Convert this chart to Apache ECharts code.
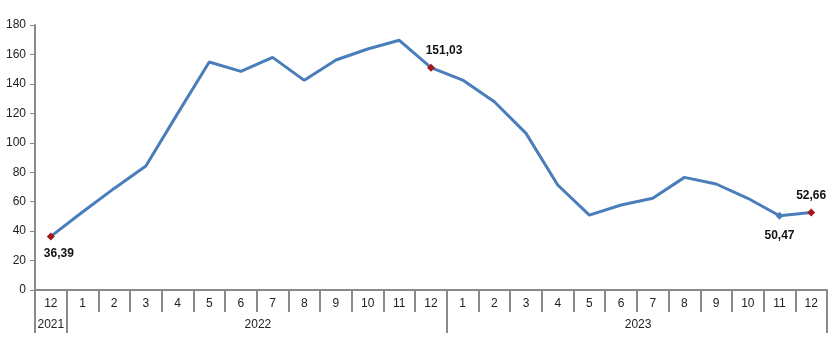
<!DOCTYPE html>
<html><head><meta charset="utf-8">
<script src="https://cdn.jsdelivr.net/npm/echarts@6/dist/echarts.min.js"></script>
<style>html,body{margin:0;padding:0;background:#fff}#c{width:835px;height:338px}</style>
</head><body><div id="c"></div>
<script>
const months = ['12','1','2','3','4','5','6','7','8','9','10','11','12','1','2','3','4','5','6','7','8','9','10','11','12'];
const years = ['2021','2022','2023'];
const yearStartIdx = [0, 1, 13];
const values = [36.39, 53, 69, 84.2, 119.8, 154.9, 148.5, 158, 142.4, 156.2, 163.7, 169.6, 151.03,
  142.6, 127.9, 106.4, 71.3, 50.9, 57.7, 62.3, 76.5, 72, 62.3, 50.47, 52.66];
const yTicks = [0, 20, 40, 60, 80, 100, 120, 140, 160, 180];

const red = '#a3161c', blue = '#4a7ebb';
const labelled = {
  0: {color: red, pos: 'bottom', off: [8, 2]},
  12: {color: red, pos: 'top', off: [13, -2]},
  23: {color: blue, pos: 'bottom', off: [0, 5]},
  24: {color: red, pos: 'top', off: [0, -2]}
};
const fmt = v => v.toFixed(2).replace('.', ',');
const seriesData = values.map((v, i) => {
  const l = labelled[i];
  if (!l) return {value: v, symbol: 'none'};
  return {
    value: v, symbol: 'diamond', symbolSize: 8,
    itemStyle: {color: l.color},
    label: {show: true, position: l.pos, offset: l.off, formatter: () => fmt(v),
      fontFamily: 'Liberation Sans, Arial', fontWeight: 'bold', fontSize: 12, color: '#111'}
  };
});
// year labels: 2021 on its single band, others centred on the band boundary mid-year
const yearLabelIdx = {0: 0, 6: 1, 18: 2};
const axisColor = '#8a8a8a';
const chart = echarts.init(document.getElementById('c'));
chart.setOption({
  animation: false,
  grid: {left: 35, right: 8, top: 25, bottom: 48, containLabel: false},
  xAxis: [{
    type: 'category', data: months, boundaryGap: true, position: 'bottom',
    axisLine: {show: true, lineStyle: {color: axisColor, width: 2}},
    axisTick: {show: true, interval: 0, length: 22, lineStyle: {color: axisColor, width: 2}},
    axisLabel: {interval: 0, margin: 8, color: '#222', fontFamily: 'Liberation Sans, Arial', fontSize: 12}
  }, {
    type: 'category', data: months, boundaryGap: true, position: 'bottom', offset: 22,
    axisLine: {show: false},
    axisTick: {show: true, length: 21, interval: (i) => yearStartIdx.indexOf(i) >= 0, lineStyle: {color: axisColor, width: 2}},
    axisLabel: {interval: 0, margin: 7, color: '#222', fontFamily: 'Liberation Sans, Arial', fontSize: 12,
      formatter: (v, i) => {
        const y = yearLabelIdx[i];
        if (y === undefined) return '';
        return y === 0 ? '{a|' + years[y] + '}' : '{b|' + years[y] + '}';
      },
      rich: {
        a: {fontFamily: 'Liberation Sans, Arial', fontSize: 12, color: '#222'},
        b: {fontFamily: 'Liberation Sans, Arial', fontSize: 12, color: '#222', padding: [0, 0, 0, 34]}
      }}
  }],
  yAxis: {
    type: 'value', min: 0, max: 180, interval: 20,
    axisLine: {show: true, lineStyle: {color: axisColor, width: 2}},
    axisTick: {show: true, length: 5, lineStyle: {color: axisColor, width: 1}},
    splitLine: {show: false},
    axisLabel: {margin: 9, color: '#222', fontFamily: 'Liberation Sans, Arial', fontSize: 12,
      formatter: v => yTicks.indexOf(v) >= 0 ? String(v) : ''}
  },
  series: [{
    type: 'line', xAxisIndex: 0, data: seriesData, showSymbol: true, showAllSymbol: true,
    lineStyle: {color: blue, width: 3}, itemStyle: {color: blue}, z: 3
  }]
});
</script>
</body></html>
